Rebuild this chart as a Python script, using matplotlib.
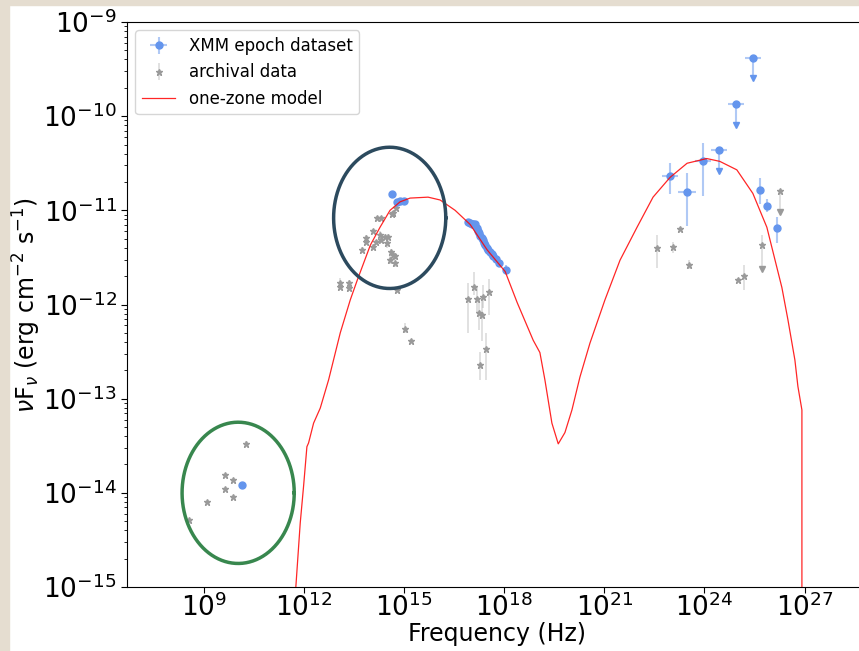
import numpy as np
import matplotlib
matplotlib.use("Agg")
import matplotlib.pyplot as plt
from matplotlib.patches import Rectangle
from matplotlib.ticker import NullLocator, LogLocator, FixedLocator

# ---- data (log10 nu [Hz], log10 nuFnu [erg cm-2 s-1]) ----

# XMM epoch dataset, points with symmetric errors
xmm_lognu = [10.14, 14.63, 14.78, 14.88, 15.00,
             16.93, 16.98, 17.03, 17.08, 17.13, 17.18, 17.22, 17.25, 17.29, 17.33,
             17.37, 17.40, 17.44, 17.48, 17.53, 17.58, 17.63, 17.68, 17.76, 17.83, 18.05,
             22.97, 23.49, 23.96, 25.66, 25.88, 26.16]
xmm_logf = [-13.92, -10.83, -10.91, -10.90, -10.90,
            -11.12, -11.13, -11.14, -11.14, -11.15, -11.19, -11.22, -11.24, -11.27, -11.29,
            -11.32, -11.35, -11.37, -11.40, -11.42, -11.44, -11.46, -11.48, -11.52, -11.56, -11.63,
            -10.64, -10.80, -10.48, -10.78, -10.95, -11.19]
xmm_logf_lo = [None] * 24 + [-11.58, -11.66,
               -10.83, -11.17, -10.85, -10.93, -11.02, -11.35]
xmm_logf_hi = [None] * 24 + [-11.50, -11.58,
               -10.50, -10.60, -10.28, -10.66, -10.88, -11.07]
xmm_dlognu = [0] * 26 + [0.24, 0.27, 0.24, 0, 0, 0]

# XMM upper limits (value, arrow tip)
xmm_ul_lognu = [24.44, 24.95, 25.44]
xmm_ul_logf = [-10.36, -9.87, -9.38]
xmm_ul_tip = [-10.58, -10.09, -9.60]
xmm_ul_dlognu = [0.24, 0.24, 0.24]

# archival data
arc_lognu = [8.57, 9.10, 9.65, 9.65, 9.87, 9.87, 10.26,
             13.07, 13.07, 13.34, 13.34, 13.74, 13.87, 13.87, 14.07, 14.07, 14.16, 14.19,
             14.28, 14.31, 14.31, 14.43, 14.51, 14.50, 14.63, 14.68, 14.60, 14.68, 14.58,
             14.73, 14.73, 14.80, 15.03, 15.21, 14.76,
             16.93, 17.10, 17.20, 17.26, 17.33, 17.38, 17.55, 17.46, 17.28,
             22.57, 23.05, 23.27, 23.55, 25.01, 25.19]
arc_logf = [-14.29, -14.10, -13.81, -13.96, -13.86, -14.04, -13.48,
            -11.77, -11.81, -11.77, -11.83, -11.42, -11.34, -11.29, -11.39, -11.22, -11.34, -11.08,
            -11.26, -11.31, -11.08, -11.28, -11.28, -11.35, -11.04, -11.03, -11.44, -11.47, -11.53,
            -11.48, -11.56, -11.85, -12.26, -12.39, -10.97,
            -11.94, -11.81, -11.94, -12.09, -12.11, -11.92, -11.87, -12.47, -12.64,
            -11.40, -11.39, -11.20, -11.58, -11.74, -11.70]
arc_logf_lo = [-14.30, -14.11, -13.82, -13.97, -13.87, -14.05, -13.50,
               -11.83, -11.85, -11.80, -11.86, -11.45, -11.37, -11.31, -11.42, -11.24, -11.37, -11.10,
               -11.30, -11.35, -11.10, -11.32, -11.31, -11.40, -11.06, -11.05, -11.47, -11.51, -11.57,
               -11.52, -11.60, -11.88, -12.30, -12.40, -11.00,
               -12.30, -11.90, -12.09, -12.27, -12.39, -12.04, -12.11, -12.80, -12.80,
               -11.61, -11.45, -11.22, -11.62, -11.76, -11.85]
arc_logf_hi = [-14.28, -14.09, -13.80, -13.95, -13.85, -14.03, -13.45,
               -11.72, -11.77, -11.74, -11.80, -11.39, -11.31, -11.26, -11.36, -11.20, -11.31, -11.06,
               -11.22, -11.28, -11.06, -11.25, -11.25, -11.31, -11.02, -11.01, -11.41, -11.44, -11.49,
               -11.45, -11.52, -11.81, -12.20, -12.37, -10.94,
               -11.77, -11.65, -11.80, -11.95, -11.93, -11.79, -11.73, -12.30, -12.50,
               -11.26, -11.34, -11.18, -11.53, -11.72, -11.58]

# archival upper limits
arc_ul_lognu = [25.72, 26.27]
arc_ul_logf = [-11.37, -10.79]
arc_ul_tip = [-11.62, -11.02]
arc_ul_top = [-11.26, -10.79]

# one-zone model
model_lognu = [11.70, 11.89, 11.99, 12.09, 12.14, 12.29, 12.49, 12.74, 13.09, 13.39, 13.60,
               13.99, 14.28, 14.58, 14.88, 15.18, 15.72, 16.08, 16.53, 16.98, 17.49, 18.03,
               18.39, 18.63, 18.87, 19.07, 19.22, 19.43, 19.62, 19.82, 20.03, 20.27, 20.57,
               21.02, 21.47, 21.98, 22.46, 22.97, 23.48, 24.07, 24.46, 24.97, 25.45, 25.87,
               26.32, 26.50, 26.71, 26.80, 26.92, 26.92]
model_logf = [-15.30, -14.32, -13.93, -13.51, -13.47, -13.26, -13.10, -12.80, -12.30, -11.95, -11.74,
              -11.37, -11.18, -11.00, -10.91, -10.87, -10.86, -10.89, -11.00, -11.15, -11.42, -11.65,
              -11.98, -12.18, -12.38, -12.51, -12.80, -13.26, -13.48, -13.36, -13.12, -12.77, -12.41,
              -11.95, -11.53, -11.18, -10.86, -10.65, -10.50, -10.45, -10.48, -10.57, -10.82, -11.18,
              -11.82, -12.16, -12.59, -12.87, -13.12, -15.30]

# highlighted regions: centre (log nu, log F) and half-axes in decades
ell_optical = (14.57, -11.08, 1.68, 0.75)
ell_radio = (10.03, -14.00, 1.68, 0.75)

blue = '#6495ED'
blue_err = (0.39, 0.58, 0.93, 0.5)
grey = '#9a9a9a'
grey_err = (0.6, 0.6, 0.6, 0.35)


def sym_or_asym(logf, lo, hi):
    f = 10.0 ** np.array(logf)
    dlo = np.array([0 if l is None else 10.0 ** l for l in lo], dtype=float)
    dhi = np.array([0 if h is None else 10.0 ** h for h in hi], dtype=float)
    low = np.where(dlo > 0, f - dlo, 0)
    high = np.where(dhi > 0, dhi - f, 0)
    return f, np.vstack([low, high])


fig = plt.figure(figsize=(8.59, 6.51), dpi=100)
ax = fig.add_axes([127 / 859, 64 / 651, 741 / 859, 565 / 651])

# archival
f, yerr = sym_or_asym(arc_logf, arc_logf_lo, arc_logf_hi)
arc = ax.errorbar(10.0 ** np.array(arc_lognu), f, yerr=yerr, fmt='*', ms=5,
                  color=grey, ecolor=grey_err, elinewidth=1.2, label='archival data', zorder=2)
nu = 10.0 ** np.array(arc_ul_lognu)
fv = 10.0 ** np.array(arc_ul_logf)
ax.errorbar(nu, fv, yerr=[fv - 10.0 ** np.array(arc_ul_tip), 10.0 ** np.array(arc_ul_top) - fv],
            fmt='*', ms=5, color=grey, ecolor=grey_err, elinewidth=1.2, zorder=2)
ax.plot(nu, 10.0 ** np.array(arc_ul_tip), 'v', ms=5, color=grey, zorder=2)

# XMM
f, yerr = sym_or_asym(xmm_logf, xmm_logf_lo, xmm_logf_hi)
lnu = np.array(xmm_lognu)
dl = np.array(xmm_dlognu)
xerr = np.vstack([10.0 ** lnu - 10.0 ** (lnu - dl), 10.0 ** (lnu + dl) - 10.0 ** lnu])
xmm = ax.errorbar(10.0 ** lnu, f, xerr=xerr, yerr=yerr, fmt='o', ms=5,
                  color=blue, ecolor=blue_err, elinewidth=1.5, label='XMM epoch dataset', zorder=3)
lnu = np.array(xmm_ul_lognu)
dl = np.array(xmm_ul_dlognu)
fv = 10.0 ** np.array(xmm_ul_logf)
xerr = np.vstack([10.0 ** lnu - 10.0 ** (lnu - dl), 10.0 ** (lnu + dl) - 10.0 ** lnu])
ax.errorbar(10.0 ** lnu, fv, xerr=xerr, yerr=[fv - 10.0 ** np.array(xmm_ul_tip), np.zeros(3)],
            fmt='o', ms=5, color=blue, ecolor=blue_err, elinewidth=1.5, zorder=3)
ax.plot(10.0 ** lnu, 10.0 ** np.array(xmm_ul_tip), 'v', ms=5, color=blue, zorder=3)

# model
model, = ax.plot(10.0 ** np.array(model_lognu), 10.0 ** np.array(model_logf), color='red',
                 lw=0.9, alpha=0.85, label='one-zone model', zorder=4)

# ellipses drawn in log space
t = np.linspace(0, 2 * np.pi, 300)
for (cx, cy, ax_x, ax_y), col in [(ell_optical, '#2c4a5e'), (ell_radio, '#38874e')]:
    ax.plot(10.0 ** (cx + ax_x * np.cos(t)), 10.0 ** (cy + ax_y * np.sin(t)),
            color=col, lw=2.5, zorder=5)

ax.set_xscale('log')
ax.set_yscale('log')
ax.set_xlim(10 ** 6.7, 10 ** 28.9)
ax.set_ylim(1e-15, 1e-9)
ax.xaxis.set_major_locator(FixedLocator(10.0 ** np.arange(9, 28, 3)))
ax.xaxis.set_minor_locator(NullLocator())
ax.yaxis.set_major_locator(FixedLocator(10.0 ** np.arange(-15, -8)))
ax.yaxis.set_minor_locator(LogLocator(base=10, subs=np.arange(2, 10), numticks=20))
ax.tick_params(axis='both', which='major', labelsize=19, length=4)
ax.tick_params(axis='x', which='major', pad=0.5)
ax.tick_params(axis='both', which='minor', length=2)
ax.spines['right'].set_visible(False)

ax.set_xlabel('Frequency (Hz)', fontsize=17)
ax.set_ylabel(r'$\nu$F$_\nu$ (erg cm$^{-2}$ s$^{-1}$)', fontsize=17)
ax.yaxis.set_label_coords(-0.114, 0.5)
ax.xaxis.set_label_coords(0.5, -0.062)

ax.legend(handles=[xmm, arc, model], loc='upper left', fontsize=12,
          bbox_to_anchor=(0.0, 1.0), borderaxespad=0.5)

# beige frame strips of the screenshot
fig.patches.append(Rectangle((0, 0), 8.5 / 859, 1, transform=fig.transFigure,
                             color='#e5ddd0', zorder=10))
fig.patches.append(Rectangle((0, 1 - 5 / 651), 1, 5 / 651, transform=fig.transFigure,
                             color='#e5ddd0', zorder=10))

fig.savefig('out.png', dpi=100)
